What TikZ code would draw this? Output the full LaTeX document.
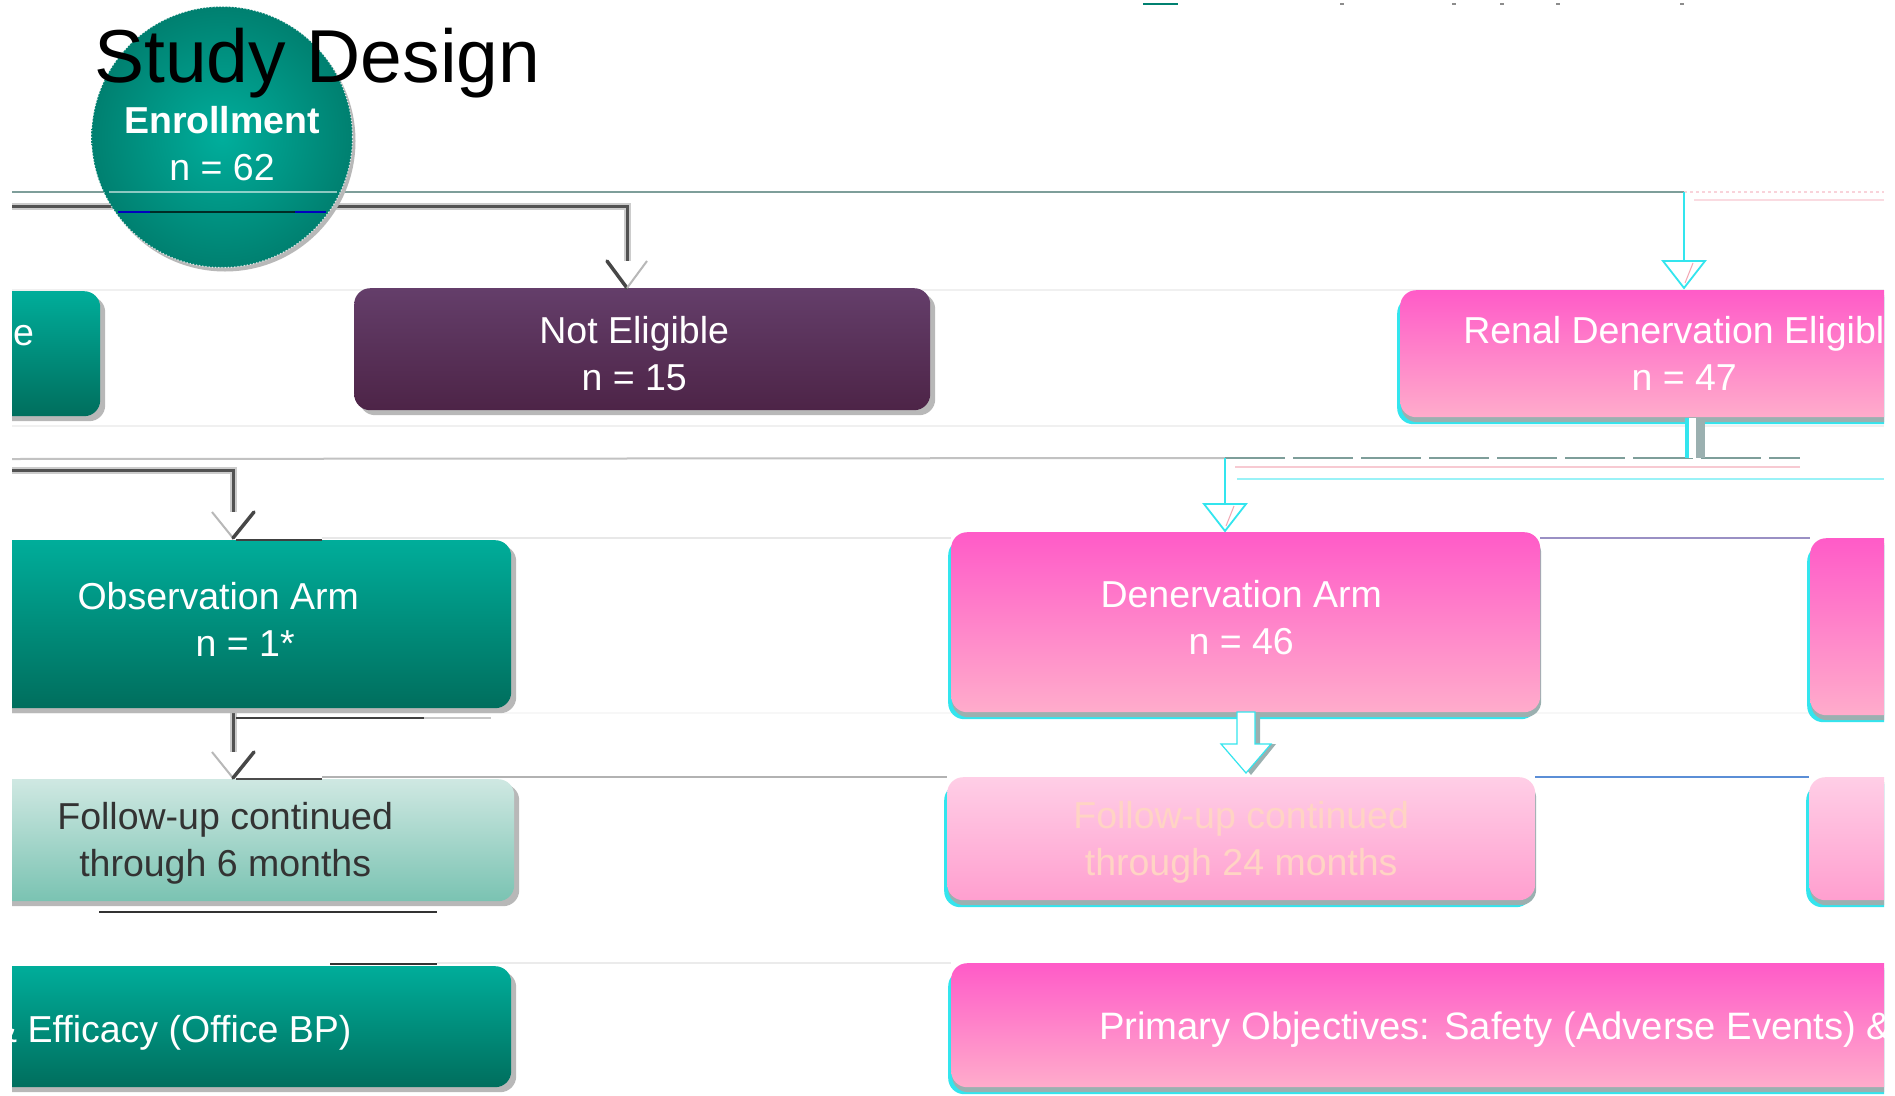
\documentclass[tikz,border=0pt]{standalone}
\usepackage{fontspec}
\setmainfont{Liberation Sans}
\usetikzlibrary{shadows,calc}
\definecolor{tealT}{HTML}{00AD9A}
\definecolor{tealB}{HTML}{006E5D}
\definecolor{tealM}{HTML}{00AE9C}
\definecolor{tealE}{HTML}{008070}
\definecolor{purpT}{HTML}{643E6A}
\definecolor{purpB}{HTML}{4D2447}
\definecolor{pinkT}{HTML}{FF5BC8}
\definecolor{pinkB}{HTML}{FFACCB}
\definecolor{lpinkT}{HTML}{FFCEE6}
\definecolor{lpinkB}{HTML}{FF9FCF}
\definecolor{ltealT}{HTML}{CFE8E2}
\definecolor{ltealB}{HTML}{7AC3B2}
\definecolor{glcyan}{HTML}{33E5EE}
\definecolor{glgray}{HTML}{9BB0B0}
\definecolor{peach}{HTML}{FFD4C4}
\definecolor{lineTeal}{HTML}{7E9E9A}
\definecolor{pinkLn}{HTML}{F2A6B4}
\definecolor{blueLn}{HTML}{5B8ED6}
\definecolor{purpLn}{HTML}{9A90C4}
\newcommand\bxfont{\fontsize{37.5}{47}\selectfont}
\tikzset{
  bx/.style={rounded corners=16pt, inner sep=0pt, align=center, font=\bxfont, anchor=north west},
  greyshadow/.style={drop shadow={shadow xshift=5pt, shadow yshift=-5pt, fill=black!28, opacity=1}},
  tealbx/.style={bx, text=white, top color=tealT, bottom color=tealB, greyshadow},
  ltealbx/.style={bx, text=black!80, top color=ltealT, bottom color=ltealB, greyshadow},
  purpbx/.style={bx, text=white, top color=purpT, bottom color=purpB, greyshadow},
  pinkshadow/.style={drop shadow={shadow xshift=-3pt, shadow yshift=-7pt, fill=glcyan, opacity=1},
    drop shadow={shadow xshift=1pt, shadow yshift=-5pt, fill=glgray, opacity=1}},
  pinkbx/.style={bx, text=white, top color=pinkT, bottom color=pinkB, pinkshadow},
  lpinkbx/.style={bx, text=peach, top color=lpinkT, bottom color=lpinkB, pinkshadow},
  cn/.style={draw=black!68, line width=3pt, preaction={draw=black!20, line width=7pt}},
  chevD/.style={draw=black!72, line width=3.5pt, line cap=round},
  chevL/.style={draw=black!28, line width=2pt},
  hollowtip/.style={draw=glcyan, line width=1.8pt, fill=white, line join=miter},
  txt/.style={anchor=base west, inner sep=0pt, font=\bxfont, text=white}
}
\begin{document}
\begin{tikzpicture}[x=1pt,y=-1pt]
\fill[white] (0,0) rectangle (1895,1095);
\useasboundingbox (0,0) rectangle (1895,1095);
\begin{scope}
\clip (12,0) rectangle (1884,1095);
% small artifacts at the top
\draw[tealE, line width=2pt] (1143,4) -- (1178,4);
\foreach \xx in {1340,1452,1500,1556,1680} \fill[black!45] (\xx,3) rectangle ++(4,2);
% coordinates
\coordinate (lftT) at (12,192);
\coordinate (rgtT) at (1884,192);
\coordinate (lftA) at (12,206);
\coordinate (lftB) at (12,470);
\coordinate (neIn) at (627,288);
\coordinate (renIn) at (1684,288);
\coordinate (renOut) at (1695,418);
\coordinate (hubL) at (1225,458);
\coordinate (hubR) at (1800,458);
\coordinate (denIn) at (1225,531);
\coordinate (obsIn) at (233,538);
\coordinate (obsOut) at (233,708);
\coordinate (fusIn) at (233,778);
\coordinate (denOut) at (1246,712);
\coordinate (fulIn) at (1246,776);
% faint background lines
\draw[black!6, line width=1.5pt] (12,290) -- (1884,290);
\draw[black!6, line width=1.5pt] (12,426) -- (1884,426);
\draw[black!9, line width=1.5pt] (322,538) -- (951,538);
\draw[purpLn, line width=1.5pt] (1540,538) -- (1810,538);
\draw[black!3, line width=1.5pt] (12,713) -- (1884,713);
\draw[black!24, line width=2pt] (12,459) -- (hubL);
\draw[black!30, line width=1.8pt] (322,777) -- (947,777);
\draw[blueLn, line width=1.5pt] (1535,777) -- (1809,777);
\draw[black!8, line width=1.5pt] (437,963) -- (951,963);
% top line and connectors behind boxes
\draw[lineTeal, line width=2.2pt] (lftT) -- (renIn |- lftT);
\draw[pinkLn!50, line width=1.2pt, dashed] (renIn |- lftT) -- (rgtT);
\draw[pinkLn!40, line width=1.2pt] ($(renIn |- lftT)+(10,8)$) -- ($(rgtT)+(0,8)$);
\draw[cn] (lftA) -| ($(neIn)+(0,-27)$);
\draw[cn] (lftB) -| ($(obsIn)+(0,-26)$);
\draw[cn] (obsOut) -- ($(fusIn)+(0,-26)$);
\draw[glcyan, line width=2pt] (renIn |- lftT) -- ($(renIn)+(0,-26)$);
\draw[lineTeal, line width=2.2pt, dash pattern=on 60pt off 8pt] (hubL) -- (hubR);
\draw[pinkLn!60, line width=1.2pt] ($(hubL)+(10,9)$) -- ($(hubR)+(0,9)$);
\draw[glcyan!50, line width=1.2pt] ($(hubL)+(12,21)$) -- ($(rgtT |- hubL)+(0,21)$);
\draw[glcyan, line width=2pt] (hubL) -- ($(denIn)+(0,-26)$);
% boxes
\node[tealbx, minimum width=200pt, minimum height=125pt] (lefte) at (-100,291) {};
\node[purpbx, minimum width=576pt, minimum height=122pt] (ne) at (354,288)
  {\rule{0pt}{35pt}Not Eligible\hspace*{16pt}\\n = 15\hspace*{16pt}};
\node[pinkbx, minimum width=568pt, minimum height=127pt] (renal) at (1400,290)
  {Renal Denervation Eligible\\n = 47};
\node[tealbx, minimum width=586pt, minimum height=168pt] (obs) at (-75,540)
  {Observation Arm\\\hspace*{54pt}n = 1*\rule[-10pt]{0pt}{0pt}};
\node[ltealbx, minimum width=578pt, minimum height=122pt] (fus) at (-64,779)
  {\rule{0pt}{34pt}Follow-up continued\\through 6 months};
\node[tealbx, minimum width=911pt, minimum height=121pt] (eff) at (-400,966) {};
\node[pinkbx, minimum width=589pt, minimum height=180pt] (den) at (951,532)
  {Denervation Arm\hspace*{9pt}\\n = 46\hspace*{9pt}\rule[-10pt]{0pt}{0pt}};
\node[lpinkbx, minimum width=588pt, minimum height=123pt] (ful) at (947,777)
  {\rule{0pt}{34pt}Follow-up continued\\through 24 months};
\node[pinkbx, minimum width=300pt, minimum height=177pt] (rp1) at (1810,538) {};
\node[lpinkbx, minimum width=300pt, minimum height=123pt] (rp2) at (1809,777) {};
\node[pinkbx, minimum width=1200pt, minimum height=124pt] (prim) at (951,963) {};
% texts in the clipped boxes
\node[txt] (et) at (13,345) {e};
\node[txt] (efft) at (-8,1042) {\& Efficacy (Office BP)};
\node[txt, font=\fontsize{38.2}{47}\selectfont] (primt) at (1099,1039) {Primary Objectives: Safety (Adverse Events) \&};
% enrollment circle
\node[circle, minimum size=261pt, inner sep=0pt, inner color=tealM, outer color=tealE,
  text=white, align=center, font=\bxfont,
  drop shadow={shadow xshift=3pt, shadow yshift=-4pt, fill=black!28, opacity=1}] (enroll) at (222,137)
  {\rule{0pt}{40pt}\textbf{Enrollment}\\n = 62};
\draw[white, line width=1.2pt, dotted, opacity=.8] (enroll.center) circle[radius=130.5pt];
\draw[white, opacity=.55, line width=1.5pt] (109,192) -- (337,192);
\draw[black!60!tealB, line width=2.5pt] (118,212) -- (326,212);
\draw[blue!75!black, line width=2.5pt] (118,212) -- (150,212) (295,212) -- (326,212);
% renal outlet bar
\fill[glcyan] ($(renOut)+(-10,0)$) rectangle ($(renOut |- hubL)+(-6,0)$);
\fill[white] ($(renOut)+(-6,0)$) rectangle ($(renOut |- hubL)+(1,0)$);
\fill[glgray] ($(renOut)+(1,0)$) rectangle ($(renOut |- hubL)+(10,0)$);
% artifact dark lines
\draw[black!75, line width=2pt] (236,540) -- (322,540);
\draw[black!75, line width=2pt] (236,718) -- (424,718);
\draw[black!22, line width=2pt] (424,718) -- (491,718);
\draw[black!70, line width=2pt] (236,779) -- (322,779);
\draw[black!80, line width=2pt] (99,912) -- (437,912);
\draw[black!80, line width=2pt] (330,964) -- (437,964);
% chevron arrow heads
\draw[chevD] ($(neIn)+(-20,-27)$) -- (neIn);
\draw[chevL] (neIn) -- ($(neIn)+(20,-27)$);
\draw[chevL] ($(obsIn)+(-21,-26)$) -- (obsIn);
\draw[chevD] (obsIn) -- ($(obsIn)+(21,-26)$);
\draw[chevL] ($(fusIn)+(-21,-26)$) -- (fusIn);
\draw[chevD] (fusIn) -- ($(fusIn)+(21,-26)$);
% hollow triangle heads
\draw[hollowtip] ($(renIn)+(-21,-27)$) -- ($(renIn)+(21,-27)$) -- (renIn) -- cycle;
\draw[pinkLn, line width=1pt] ($(renIn)+(9,-25)$) -- ($(renIn)+(1,-5)$);
\draw[hollowtip] ($(denIn)+(-21,-27)$) -- ($(denIn)+(21,-27)$) -- (denIn) -- cycle;
\draw[pinkLn, line width=1pt] ($(denIn)+(9,-25)$) -- ($(denIn)+(1,-5)$);
% block arrow denervation -> follow-up
\fill[glgray] ($(denOut)+(-4,0)$) -- ($(denOut)+(14,0)$) -- ($(fulIn)+(14,-32)$) -- ($(fulIn)+(30,-32)$)
  -- ($(fulIn)+(5,-1)$) -- ($(fulIn)+(-20,-32)$) -- ($(fulIn)+(-4,-32)$) -- cycle;
\draw[fill=white, draw=glcyan, line width=1.2pt] ($(denOut)+(-9,0)$) -- ($(denOut)+(9,0)$) -- ($(fulIn)+(9,-32)$)
  -- ($(fulIn)+(25,-32)$) -- ($(fulIn)+(0,-3)$) -- ($(fulIn)+(-25,-32)$) -- ($(fulIn)+(-9,-32)$) -- cycle;
% title
\node[anchor=base west, inner sep=0pt, font=\fontsize{75}{90}\selectfont] (title) at (94,82) {Study Design};
\end{scope}
\end{tikzpicture}
\end{document}
